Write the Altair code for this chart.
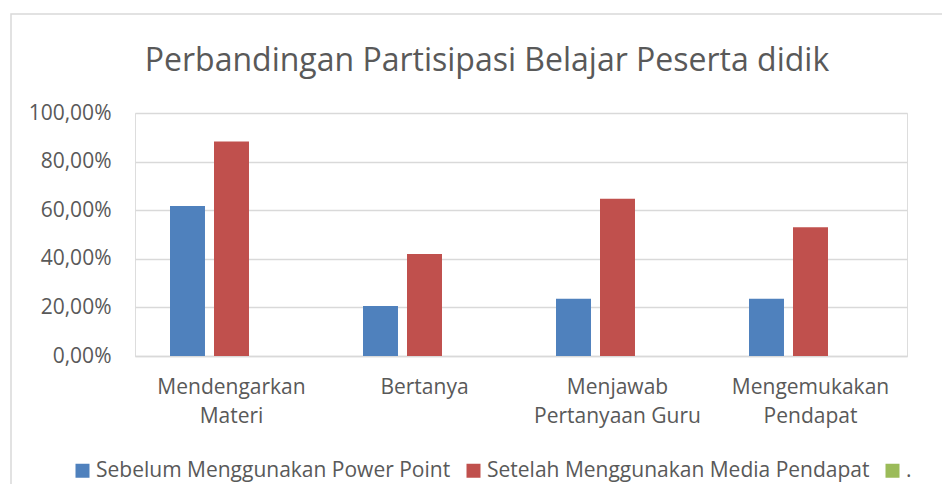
import altair as alt
import pandas as pd

categories = ["Mendengarkan Materi", "Bertanya", "Menjawab Pertanyaan Guru", "Mengemukakan Pendapat"]
series = ["Sebelum Menggunakan Power Point", "Setelah Menggunakan Media Pendapat", "."]
sebelum = [0.6176, 0.2059, 0.2353, 0.2353]
setelah = [0.8824, 0.4200, 0.6471, 0.5294]
titik = [None, None, None, None]
colors = ["#4F81BD", "#C0504D", "#9BBB59"]
title_text = "Perbandingan Partisipasi Belajar Peserta didik"

rows = []
for vals, s in zip([sebelum, setelah, titik], series):
    for c, v in zip(categories, vals):
        rows.append({"kategori": c, "seri": s, "nilai": v})
df = pd.DataFrame(rows)

FONT = "Open Sans"
TXT = "#595959"
GRID = "#D9D9D9"

label_expr = ("indexof(datum.label, ' ') > 0 ? [slice(datum.label, 0, indexof(datum.label, ' ')), "
              "slice(datum.label, indexof(datum.label, ' ') + 1)] : datum.label")

bars = alt.Chart(df).mark_bar().encode(
    x=alt.X("kategori:N", sort=categories,
            scale=alt.Scale(paddingInner=0.3627, paddingOuter=0.18135),
            axis=alt.Axis(title=None, labelAngle=0, labelExpr=label_expr, labelFont=FONT,
                          labelFontSize=21, labelColor=TXT, labelPadding=20, labelLineHeight=29,
                          ticks=False, domainColor=GRID, domainWidth=1.5, grid=False)),
    xOffset=alt.XOffset("seri:N", scale=alt.Scale(domain=series, paddingInner=0.205, paddingOuter=0)),
    y=alt.Y("nilai:Q", scale=alt.Scale(domain=[0, 1]),
            axis=alt.Axis(title=None, values=[0, 0.2, 0.4, 0.6, 0.8, 1.0],
                          labelExpr="replace(format(datum.value, '.2%'), '.', ',')",
                          labelFont=FONT, labelFontSize=21, labelColor=TXT, labelPadding=24,
                          ticks=False, domain=False, gridColor=GRID, gridWidth=1.5)),
    color=alt.Color("seri:N", scale=alt.Scale(domain=series, range=colors),
                    legend=alt.Legend(title=None, orient="none", direction="horizontal",
                                      legendX=-63, legendY=347, symbolType="square",
                                      symbolSize=196, symbolStrokeWidth=0, labelFont=FONT,
                                      labelFontSize=21, labelColor=TXT, columnPadding=12,
                                      labelOffset=3, labelLimit=500)),
)

frame = alt.Chart(alt.Data(values=[{"a": 1}])).mark_rect(
    fill=None, stroke=GRID, strokeWidth=1.5
).encode(x=alt.value(-124), x2=alt.value(900), y=alt.value(-99), y2=alt.value(500))

title = alt.Chart(alt.Data(values=[{"t": title_text}])).mark_text(
    font=FONT, fontSize=32, color=TXT, align="center", baseline="alphabetic"
).encode(text="t:N", x=alt.value(352), y=alt.value(-42))

chart = alt.layer(frame, bars, title).properties(
    width=772, height=243,
    padding={"left": 127, "top": 105, "right": 35, "bottom": 128},
    autosize=alt.AutoSizeParams(type="none"),
).configure_view(strokeWidth=0, stroke="transparent").configure(background="white")

chart.save("out.html", embed_options={"renderer": "svg", "actions": False})
